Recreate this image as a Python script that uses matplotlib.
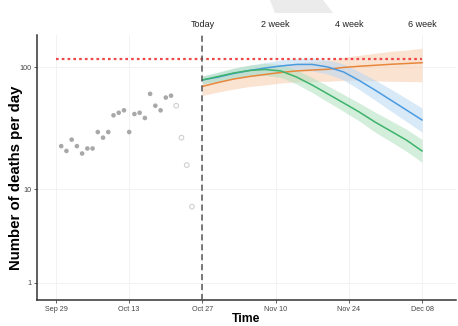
import numpy as np
import pandas as pd
import matplotlib.pyplot as plt
import matplotlib.dates as mdates
from matplotlib.patches import Polygon

plt.rcParams['font.family'] = ['Liberation Sans', 'DejaVu Sans']

# observed daily deaths (filled = complete, open = still being reported)
obs_dates = pd.date_range("2020-09-30", "2020-10-21")
obs_deaths = [23, 21, 26, 23, 20, 22, 22, 30, 27, 30, 41, 43, 45, 30,
              42, 43, 39, 61, 49, 45, 57, 59]
recent_dates = pd.date_range("2020-10-22", "2020-10-25")
recent_deaths = [49, 27, 16, 7]

# scenario projections, every 3 days from today
proj_dates = pd.date_range("2020-10-27", "2020-12-08", freq="3D")
blue_mid = [78.8, 83, 88.8, 93.8, 98.2, 101.9, 104.8, 104.8, 100, 91.3, 78, 65.5, 54.5, 45.3, 37.6]
blue_lo = [73.2, 76.4, 81, 85.6, 88.8, 91.3, 93.9, 93, 87.9, 78.8, 66.1, 54.5, 44.5, 36.6, 30]
blue_hi = [84.8, 90.1, 97.3, 102.8, 108.6, 113.7, 117, 118, 113.7, 105.7, 92, 78.7, 66.8, 56.1, 47]

green_mid = [78.8, 84, 89.6, 93.8, 95.6, 93, 83.2, 71.8, 60.9, 51.6, 43.6, 36.2, 30.6, 25.8, 21]
green_lo = [73.2, 77.3, 81.7, 84.8, 85.6, 82.5, 73.2, 62.5, 52.5, 44.1, 36.9, 30, 25.1, 20.9, 16.9]
green_hi = [84.8, 91.2, 98.2, 103.8, 106.7, 104.8, 94.6, 82.4, 70.6, 60.4, 51.5, 43.6, 37.2, 31.7, 26.1]

orange_mid = [70, 75.2, 80.2, 84, 87.2, 90.4, 93, 94.6, 95.9, 99.2, 101.4, 103.2, 105.1, 106.6, 108.2]
orange_lo = [59.3, 63.1, 66.7, 69.9, 71.9, 74.5, 76, 76.6, 76.9, 78.1, 78.4, 77.6, 76.9, 76.6, 76.3]
orange_hi = [78.2, 84.7, 91.2, 95.5, 99.2, 103.7, 107.7, 110.6, 113.1, 119.2, 124, 128.6, 133.4, 136.5, 141.1]

capacity = 116
today = pd.Timestamp("2020-10-27")
tick_dates = pd.date_range("2020-09-29", "2020-12-08", freq="14D")
top_labels = ["Today", "2 week", "4 week", "6 week"]


def fwd(y):
    return np.log10(np.asarray(y, dtype=float) + 1)


def inv(y):
    return 10 ** np.asarray(y, dtype=float) - 1


fig = plt.figure(figsize=(4.58, 3.26), dpi=100)
ax = fig.add_axes([37 / 458, 26 / 326, 419 / 458, 265 / 326])
ax.set_yscale('function', functions=(fwd, inv))

ax.grid(True, color='#F0F0F0', linewidth=0.6, zorder=0)

ax.scatter(obs_dates, obs_deaths, s=11, color='#A8A8A8', edgecolors='none', zorder=3)
ax.scatter(recent_dates, recent_deaths, s=11, facecolors='none', edgecolors='#D0D0D0',
           linewidths=0.8, zorder=3)

series = [
    (orange_lo, orange_hi, orange_mid, '#E8873A', '#F8CDAE'),
    (blue_lo, blue_hi, blue_mid, '#4A9BE0', '#B8D7F2'),
    (green_lo, green_hi, green_mid, '#3DB36B', '#B0E0BE'),
]
for lo, hi, mid, line_col, band_col in series:
    ax.fill_between(proj_dates, lo, hi, color=band_col, alpha=0.55, linewidth=0, zorder=2)
for lo, hi, mid, line_col, band_col in series:
    ax.plot(proj_dates, mid, color=line_col, linewidth=1.1, zorder=4)

ax.plot([tick_dates[0], tick_dates[-1]], [capacity, capacity], color='#F04848',
        linestyle=(0, (1.2, 1.4)), linewidth=1.6, zorder=5)
ax.axvline(today, color='#555555', linestyle=(0, (4, 2.5)), linewidth=1.1, zorder=5)

ax.set_xlim(tick_dates[0] - pd.Timedelta(days=3.63), tick_dates[-1] + pd.Timedelta(days=6.5))
ax.set_ylim(0.468, 179.6)
ax.set_yticks([1, 10, 100])
ax.set_yticklabels(['1', '10', '100'])
ax.yaxis.set_minor_locator(plt.NullLocator())
ax.set_xticks(tick_dates)
ax.xaxis.set_major_formatter(mdates.DateFormatter('%b %d'))
ax.tick_params(axis='both', labelsize=5.2, colors='#444444', length=2, width=0.6, pad=2)

for side in ['top', 'right']:
    ax.spines[side].set_visible(False)
for side in ['left', 'bottom']:
    ax.spines[side].set_color('#333333')
    ax.spines[side].set_linewidth(1.1)

ax.set_xlabel('Time', fontsize=8.8, fontweight='bold', labelpad=0)
ax.set_ylabel('Number of deaths per day', fontsize=10.8, fontweight='bold')
ax.yaxis.set_label_coords(-0.034, 0.46)

# week markers along the top
top = ax.secondary_xaxis('top')
top.set_xticks(tick_dates[2:])
top.set_xticklabels(top_labels)
top.tick_params(length=0, labelsize=6.5, colors='#222222', pad=4)
top.spines['top'].set_visible(False)

fig.patches.append(Polygon([[270 / 458, 1], [323 / 458, 1], [333 / 458, 1 - 13 / 326],
                            [275 / 458, 1 - 13 / 326]], closed=True, transform=fig.transFigure,
                           facecolor='#EBEBEB', edgecolor='none'))

fig.savefig('out.png', dpi=100)
